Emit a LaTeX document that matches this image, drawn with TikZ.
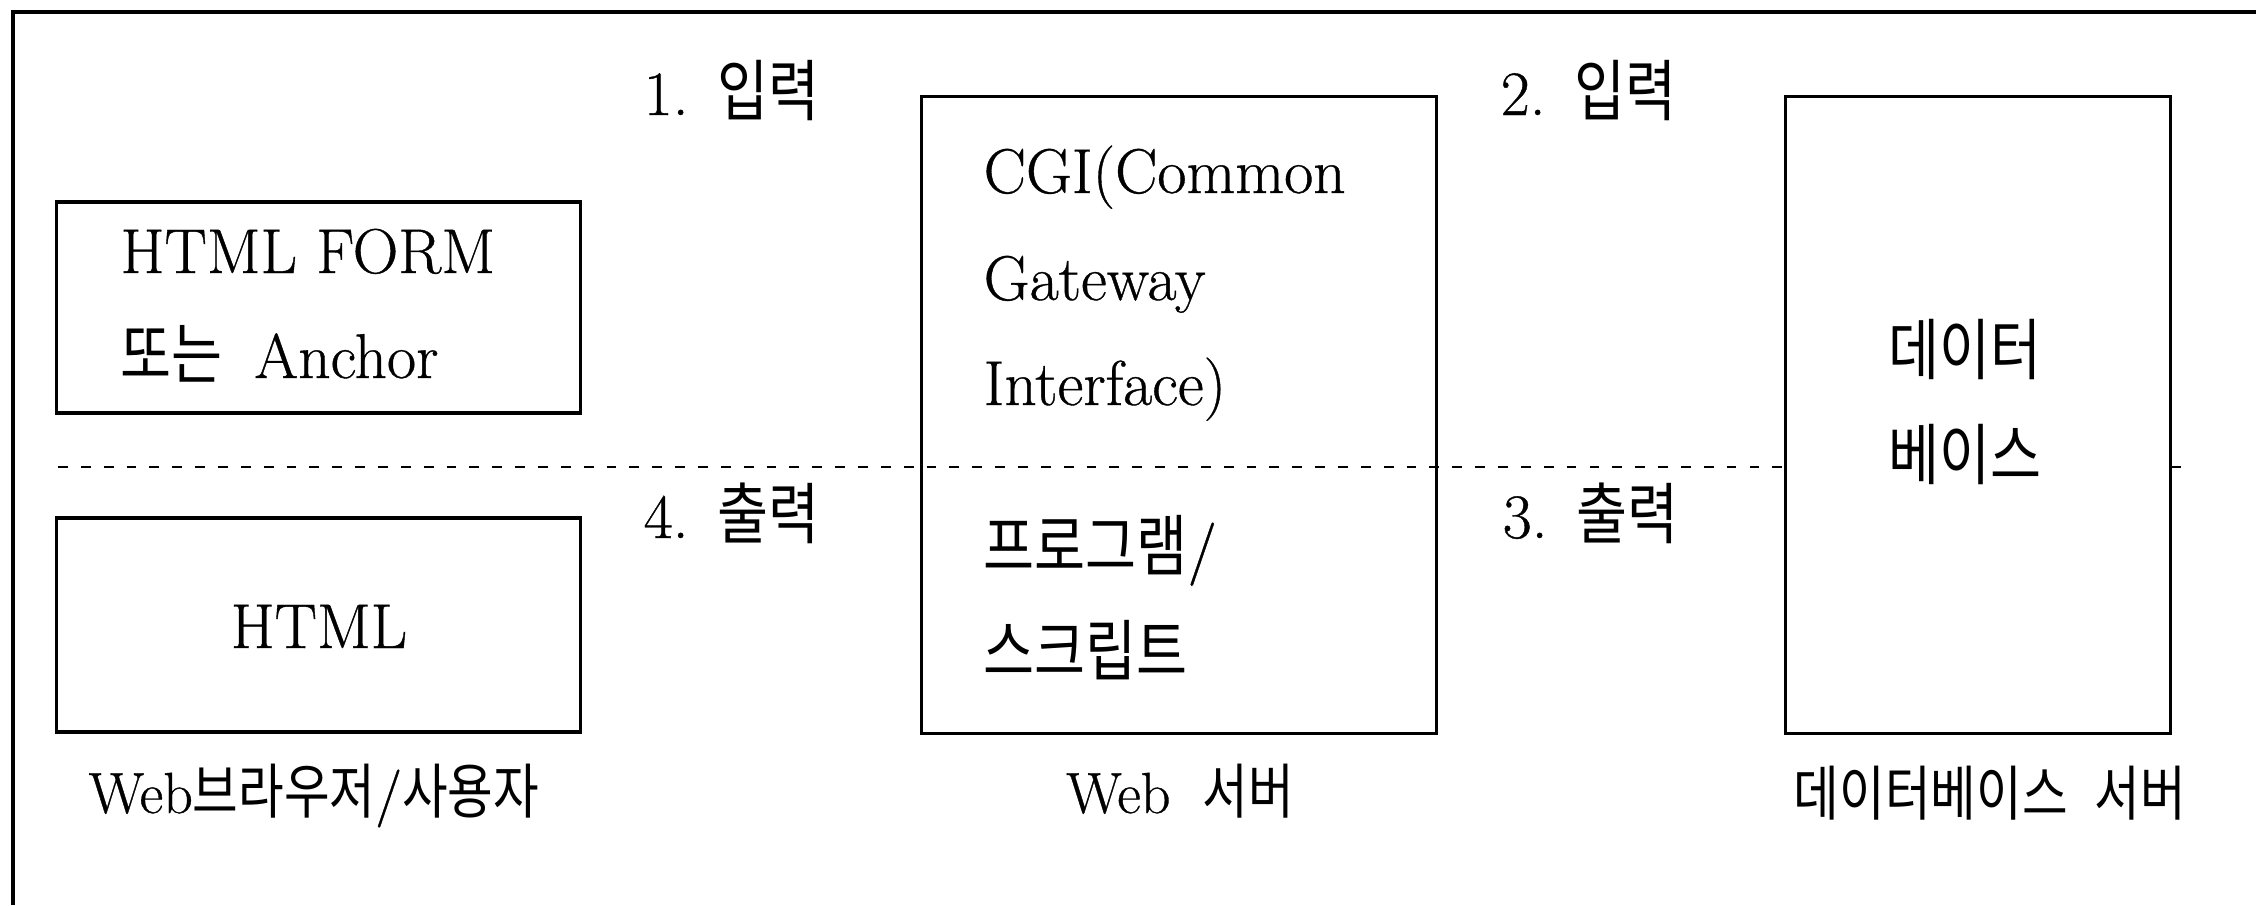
\documentclass[tikz,border=0pt]{standalone}
\usepackage{fontspec}
\setmainfont{Latin Modern Roman}[FakeBold=0.6]
\newfontfamily\kr[FakeStretch=0.83]{Noto Sans CJK KR}
\newcommand\KOtxt[1]{{\kr\fontsize{19}{22}\selectfont #1}}
\newcommand\KCtxt[1]{{\kr\fontsize{17}{20}\selectfont #1}}
\begin{document}
\begin{tikzpicture}[x=0.01cm,y=-0.01cm,
  every node/.style={font=\fontsize{18}{21}\selectfont},
  boxstyle/.style={draw, line width=0.9pt, inner sep=0pt},
  txt/.style={inner sep=0pt, anchor=base west},
  ctxt/.style={inner sep=0pt, anchor=base},
  captxt/.style={inner sep=0pt, anchor=base, font=\fontsize{16.5}{19}\selectfont},
  sep/.style={line width=0.55pt, dash pattern=on 2.8pt off 3.7pt}]
\useasboundingbox (0,0) rectangle (2256,905);
% frame
\coordinate (fr) at (2256,12);
\coordinate (fc) at (13,12);
\coordinate (fb) at (13,905);
\draw[line width=0.9pt] (fr) -- (fc) -- (fb);
% boxes
\node[boxstyle, minimum width=5.23cm, minimum height=2.11cm] (form) at (318.5,307.5) {};
\node[boxstyle, minimum width=5.23cm, minimum height=2.14cm] (html) at (318.5,625) {};
\node[boxstyle, minimum width=5.14cm, minimum height=6.36cm] (web) at (1179,415) {};
\node[boxstyle, minimum width=3.84cm, minimum height=6.36cm] (db) at (1978,415) {};
% separator
\coordinate (sl) at (58,467);
\coordinate (st) at (2181,467);
\draw[sep] (sl) -- (db.west |- sl);
\draw[line width=0.55pt] (db.east |- sl) -- (st);
% texts in boxes
\node[txt] (f1) at (120,273) {HTML FORM};
\node[txt] (f2) at (120,378) {\KOtxt{또는}\hspace{0.5em}Anchor};
\node[ctxt] (h1) at (319,648) {HTML};
\node[txt] (w1) at (983,193) {CGI(Common};
\node[txt] (w2) at (983,300) {Gateway};
\node[txt] (w3) at (983,405) {Interface)};
\node[txt] (w4) at (983,570) {\KOtxt{프로그램}/};
\node[txt] (w5) at (983,675) {\KOtxt{스크립트}};
\node[ctxt] (d1) at (1965,374) {\KOtxt{데이터}};
\node[ctxt] (d2) at (1965,479) {\KOtxt{베이스}};
% step labels
\node[txt] (s1) at (643,115) {1.\hspace{0.45em}\KOtxt{입력}};
\node[txt] (s2) at (1500,115) {2.\hspace{0.45em}\KOtxt{입력}};
\node[txt] (s3) at (1502,538) {3.\hspace{0.45em}\KOtxt{출력}};
\node[txt] (s4) at (643,538) {4.\hspace{0.45em}\KOtxt{출력}};
% captions
\node[captxt, anchor=base west] (c1) at (88,813) {Web\KCtxt{브라우저}/\KCtxt{사용자}};
\node[captxt] (c2) at (1180,813) {Web\hspace{0.55em}\KCtxt{서버}};
\node[captxt] (c3) at (1990,815) {\KCtxt{데이터베이스\hspace{0.45em}서버}};
\end{tikzpicture}
\end{document}
